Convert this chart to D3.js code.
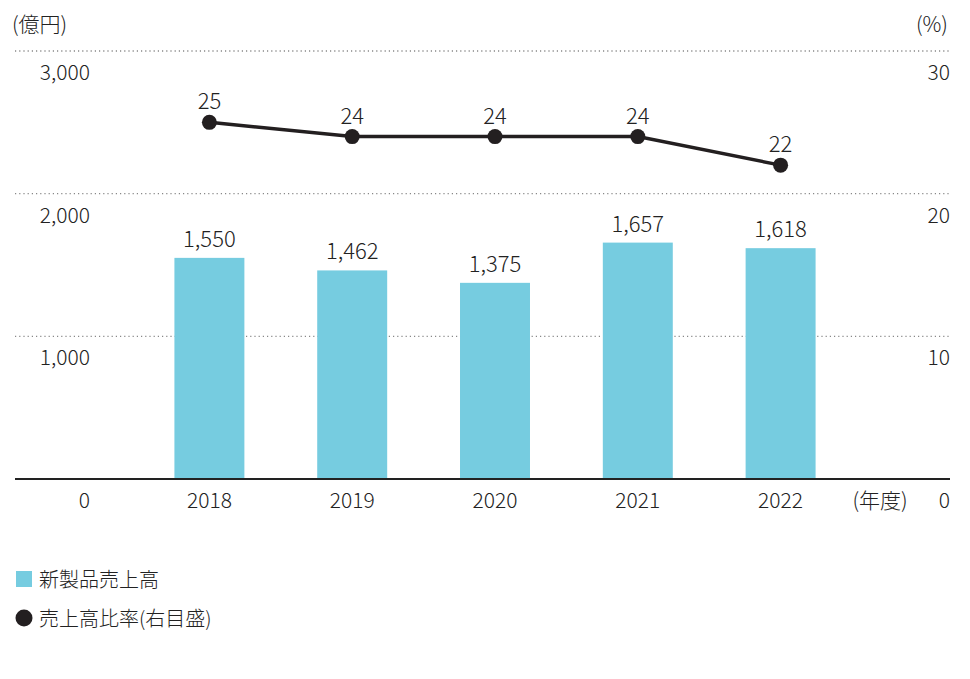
<!DOCTYPE html><html><head><meta charset="utf-8"><script src="https://d3js.org/d3.v7.min.js"></script>
<style>body{margin:0;background:#fff}text{font-family:"Noto Sans CJK JP","Noto Sans",sans-serif;fill:#222;font-weight:300}</style></head><body><svg id="c" width="970" height="679"></svg><script>
const years=["2018","2019","2020","2021","2022"];
const sales=[1550,1462,1375,1657,1618];
const ratio=[25,24,24,24,22];
const leftTicks=[0,1000,2000,3000];
const rightTicks=[0,10,20,30];
const svg=d3.select("#c");
const y=d3.scaleLinear().domain([0,3000]).range([479,51]);
const yr=d3.scaleLinear().domain([0,30]).range([479,51]);
const x=d3.scaleBand().domain(years).range([138,852]).paddingInner(0.51).paddingOuter(0.255);
const fmt=d3.format(",");
leftTicks.filter(d=>d>0).forEach(d=>svg.append("line").attr("x1",15).attr("x2",950).attr("y1",y(d)).attr("y2",y(d)).attr("stroke","#888").attr("stroke-dasharray","1.2,3").attr("stroke-width",1.3));
leftTicks.forEach(d=>svg.append("text").attr("x",90).attr("y",y(d)+29).attr("text-anchor","end").attr("font-size",21).text(fmt(d)));
rightTicks.forEach(d=>svg.append("text").attr("x",950).attr("y",yr(d)+29).attr("text-anchor","end").attr("font-size",21).text(d));
svg.append("text").attr("x",12).attr("y",32).attr("font-size",21).text("(億円)");
svg.append("text").attr("x",948).attr("y",32).attr("text-anchor","end").attr("font-size",21).text("(%)");
svg.selectAll("rect.b").data(sales).join("rect").attr("x",(d,i)=>x(years[i])).attr("width",x.bandwidth()).attr("y",d=>y(d)).attr("height",d=>479-y(d)).attr("fill","#76cce0");
svg.selectAll("text.b").data(sales).join("text").attr("x",(d,i)=>x(years[i])+x.bandwidth()/2).attr("y",d=>y(d)-11).attr("text-anchor","middle").attr("font-size",22).text(d=>fmt(d));
svg.append("line").attr("x1",15).attr("x2",950).attr("y1",479).attr("y2",479).attr("stroke","#222").attr("stroke-width",2);
years.forEach(d=>svg.append("text").attr("x",x(d)+x.bandwidth()/2).attr("y",508).attr("text-anchor","middle").attr("font-size",21).text(d));
svg.append("text").attr("x",880).attr("y",508).attr("text-anchor","middle").attr("font-size",21).text("(年度)");
const cx=i=>x(years[i])+x.bandwidth()/2;
svg.append("path").attr("d",d3.line().x((d,i)=>cx(i)).y(d=>yr(d))(ratio)).attr("fill","none").attr("stroke","#231f20").attr("stroke-width",3.5);
ratio.forEach((d,i)=>{svg.append("circle").attr("cx",cx(i)).attr("cy",yr(d)).attr("r",7.5).attr("fill","#231f20");
svg.append("text").attr("x",cx(i)).attr("y",yr(d)-13).attr("text-anchor","middle").attr("font-size",22).text(d);});
svg.append("rect").attr("x",16).attr("y",571).attr("width",16).attr("height",16).attr("fill","#76cce0");
svg.append("text").attr("x",39).attr("y",587).attr("font-size",20).text("新製品売上高");
svg.append("circle").attr("cx",24).attr("cy",618).attr("r",8.5).attr("fill","#231f20");
svg.append("text").attr("x",39).attr("y",626).attr("font-size",20).text("売上高比率(右目盛)");
</script></body></html>
